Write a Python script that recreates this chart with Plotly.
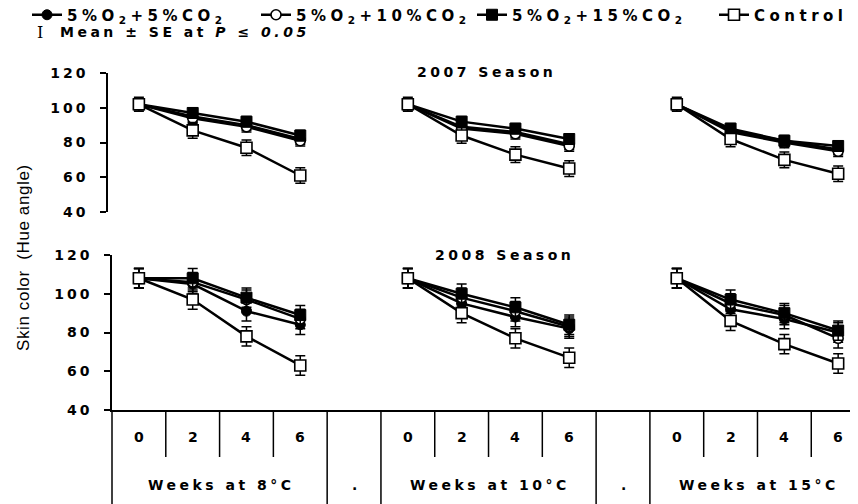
import plotly.graph_objects as go

# ---------------- data ----------------
temps = ["8", "10", "15"]
weeks = ["0", "2", "4", "6"]
names = ["5%O<sub>2</sub>+5%CO<sub>2</sub>", "5%O<sub>2</sub>+10%CO<sub>2</sub>",
         "5%O<sub>2</sub>+15%CO<sub>2</sub>", "Control"]

# 2007 season: 8C w0..w6, 10C w0..w6, 15C w0..w6
y07_c5 = [102, 95, 90, 82, 102, 89, 86, 79, 102, 87, 81, 76]
y07_c10 = [102, 94, 89, 81, 102, 88, 85, 78, 102, 86, 80, 75]
y07_c15 = [102, 97, 92, 84, 102, 92, 88, 82, 102, 88, 81, 78]
y07_ctl = [102, 87, 77, 61, 102, 84, 73, 65, 102, 82, 70, 62]
e07_c5 = [3, 3, 3, 3, 3, 3, 3, 3, 3, 3, 3, 3]
e07_c10 = [3, 3, 3, 3, 3, 3, 3, 3, 3, 3, 3, 3]
e07_c15 = [3, 3, 3, 3, 3, 3, 3, 3, 3, 3, 3, 3]
e07_ctl = [4, 4.5, 4.5, 4.5, 4, 4.5, 4.5, 4.5, 4, 4.5, 4.5, 4.5]

# 2008 season
y08_c5 = [108, 105, 91, 84, 108, 95, 88, 82, 108, 92, 87, 80]
y08_c10 = [108, 106, 97, 87, 108, 98, 91, 83, 108, 95, 89, 77]
y08_c15 = [108, 108, 98, 89, 108, 100, 93, 84, 108, 97, 90, 81]
y08_ctl = [108, 97, 78, 63, 108, 90, 77, 67, 108, 86, 74, 64]
e08_c5 = [5, 5, 5, 5, 5, 5, 5, 5, 5, 5, 5, 5]
e08_c10 = [5, 5, 5, 5, 5, 5, 5, 5, 5, 5, 5, 5]
e08_c15 = [5, 5, 5, 5, 5, 5, 5, 5, 5, 5, 5, 5]
e08_ctl = [5, 5, 5, 5, 5, 5, 5, 5, 5, 5, 5, 5]

yticks = [40, 60, 80, 100, 120]

# ---------------- layout geometry ----------------
W, H = 858, 504
OFF = 8            # page offset of the figure inside the browser page
ML = 100           # left margin (figure px)
PW = W - ML        # plot-area width


def px_x(page_x):
    return (page_x - OFF - ML) / PW


def px_y(page_y):
    return 1 - (page_y - OFF) / H


PXU = 53.79        # pixels per category column
X0 = 112           # page x of the bottom panel's left edge
XR = (W + OFF - X0) / PXU - 0.5

# ---------------- styling ----------------
BFONT = "DejaVu Sans, Verdana, sans-serif"
RFONT = "Liberation Sans, Arial, sans-serif"


def sp(t, ls=3.5):
    return f"<span style='letter-spacing:{ls}px'>{t}</span>"


styles = [
    dict(symbol="circle", size=10, color="black", line=dict(color="black", width=1)),
    dict(symbol="circle", size=10, color="white", line=dict(color="black", width=1.6)),
    dict(symbol="square", size=11, color="black", line=dict(color="black", width=1)),
    dict(symbol="square", size=11, color="white", line=dict(color="black", width=1.6)),
]
legend_widths = [184, 171, 175, 100]
legend_ids = ["legend", "legend", "legend", "legend2"]

ngrp = len(weeks) + 1  # one spacer column between temperature groups


def build(vals, errs):
    xs, ys, es = [], [], []
    for g in range(len(temps)):
        for j in range(len(weeks)):
            xs.append(g * ngrp + j)
            ys.append(vals[g * len(weeks) + j])
            es.append(errs[g * len(weeks) + j])
        xs.append(None)
        ys.append(None)
        es.append(None)
    return xs, ys, es


fig = go.Figure()
panels = [
    ("x", "y", [y07_c5, y07_c10, y07_c15, y07_ctl], [e07_c5, e07_c10, e07_c15, e07_ctl], False),
    ("x2", "y2", [y08_c5, y08_c10, y08_c15, y08_ctl], [e08_c5, e08_c10, e08_c15, e08_ctl], True),
]
for xa, ya, ser, err, show in panels:
    for k in range(4):
        xs, ys, es = build(ser[k], err[k])
        fig.add_trace(go.Scatter(
            x=xs, y=ys, xaxis=xa, yaxis=ya, mode="lines+markers",
            name=sp(names[k], 4.5), showlegend=show, legendgroup=str(k),
            legend=legend_ids[k], legendwidth=legend_widths[k],
            line=dict(color="black", width=2.5),
            marker=styles[k],
            error_y=dict(type="data", array=es, visible=True, color="black",
                         thickness=1.5, width=5),
            connectgaps=False,
        ))

axcommon = dict(range=[40, 120], tickvals=yticks,
                ticktext=[sp(str(t), 3) for t in yticks],
                showline=True, linecolor="black", linewidth=1.5,
                ticks="outside", ticklen=6, tickwidth=1.5, tickcolor="black",
                showgrid=False, zeroline=False, ticklabelstandoff=9,
                tickfont=dict(family=BFONT, size=14, color="black", weight="bold"))

legfont = dict(family=BFONT, size=15, color="black", weight="bold")
fig.update_layout(
    width=W, height=H,
    margin=dict(l=ML, r=0, t=0, b=0, autoexpand=False),
    paper_bgcolor="white", plot_bgcolor="white",
    font=dict(family=BFONT, color="black"),
    xaxis=dict(domain=[0, 1], range=[-0.5 - (X0 - (OFF + ML)) / PXU, XR],
               visible=False, anchor="y"),
    yaxis=dict(domain=[px_y(212), px_y(73)], anchor="x", **axcommon),
    xaxis2=dict(domain=[px_x(X0), 1], range=[-0.5, XR], anchor="y2",
                showline=True, linecolor="black", linewidth=1.5, showticklabels=False,
                ticks="", showgrid=False, zeroline=False),
    yaxis2=dict(domain=[px_y(410), px_y(255)], anchor="x2", **axcommon),
    legend=dict(orientation="h", xref="container", yref="container",
                x=(27 - OFF) / W, y=1 - (15 - OFF) / H, xanchor="left", yanchor="middle",
                bgcolor="rgba(0,0,0,0)", itemwidth=30, font=legfont),
    legend2=dict(orientation="h", xref="container", yref="container",
                 x=(714 - OFF) / W, y=1 - (15 - OFF) / H, xanchor="left", yanchor="middle",
                 bgcolor="rgba(0,0,0,0)", itemwidth=30, font=legfont),
)

# ---------------- category table under the bottom panel ----------------
y_axis_bottom = px_y(410)
y_row_split = px_y(457)
shapes = [dict(type="line", xref="paper", yref="paper", x0=px_x(X0), x1=px_x(X0),
               y0=0, y1=y_axis_bottom, line=dict(color="black", width=1.5))]
for g in range(len(temps)):
    for j in range(1, len(weeks)):
        xb = g * ngrp + j - 0.5
        shapes.append(dict(type="line", xref="x2", yref="paper", x0=xb, x1=xb,
                           y0=y_row_split, y1=y_axis_bottom,
                           line=dict(color="black", width=1.5)))
    for xb in (g * ngrp + len(weeks) - 0.5, g * ngrp + len(weeks) + 0.5):
        shapes.append(dict(type="line", xref="x2", yref="paper", x0=xb, x1=xb,
                           y0=0, y1=y_axis_bottom, line=dict(color="black", width=1.5)))
fig.update_layout(shapes=shapes)

bfont = dict(family=BFONT, size=14, color="black", weight="bold")
ann = []
for g, t in enumerate(temps):
    for j, w in enumerate(weeks):
        ann.append(dict(x=g * ngrp + j, y=px_y(437), xref="x2", yref="paper", text=w,
                        showarrow=False, font=bfont, xanchor="center", yanchor="middle"))
    ann.append(dict(x=g * ngrp + (len(weeks) - 1) / 2 + 0.03, y=px_y(485), xref="x2",
                    yref="paper", text=sp(f"Weeks at {t}°C"), showarrow=False, font=bfont,
                    xanchor="center", yanchor="middle"))
    if g < len(temps) - 1:
        ann.append(dict(x=g * ngrp + len(weeks), y=px_y(485), xref="x2", yref="paper",
                        text=".", showarrow=False, font=bfont,
                        xanchor="center", yanchor="middle"))

# panel titles
ann.append(dict(x=px_x(486), y=px_y(72), xref="paper", yref="paper", text=sp("2007 Season"),
                showarrow=False, font=bfont, xanchor="center", yanchor="middle"))
ann.append(dict(x=px_x(504), y=px_y(255), xref="paper", yref="paper", text=sp("2008 Season"),
                showarrow=False, font=bfont, xanchor="center", yanchor="middle"))

# y-axis title
ann.append(dict(x=px_x(23), y=px_y(258), xref="paper", yref="paper",
                text=sp("Skin color\u00a0 (Hue angle)", 0.6), textangle=-90, showarrow=False,
                font=dict(family=RFONT, size=17, color="black"),
                xanchor="center", yanchor="middle"))

# second legend line (error-bar key)
ann.append(dict(x=px_x(40), y=px_y(32), xref="paper", yref="paper",
                text="<span style='font-family:DejaVu Serif'>I</span>",
                showarrow=False, font=dict(family=BFONT, size=16, color="black"),
                xanchor="center", yanchor="middle"))
ann.append(dict(x=px_x(58), y=px_y(32), xref="paper", yref="paper",
                text=sp("Mean ± SE at <i>P ≤ 0.05</i>", 3.5),
                showarrow=False, font=dict(family=BFONT, size=14, color="black", weight="bold"),
                xanchor="left", yanchor="middle"))
fig.update_layout(annotations=ann)

fig.write_html("out.html")
